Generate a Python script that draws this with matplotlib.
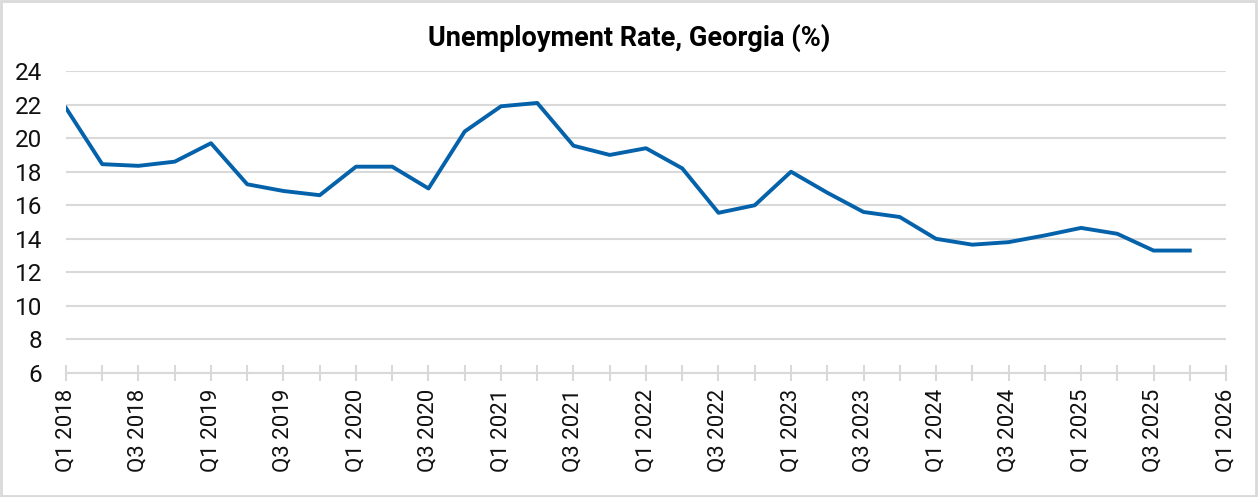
import matplotlib.pyplot as plt
from matplotlib.patches import Rectangle

# Квартальні дані, Q1 2018 - Q4 2025
quarters = [f"Q{q} {y}" for y in range(2018, 2026) for q in range(1, 5)]
rate = [21.8, 18.45, 18.35, 18.6, 19.7, 17.25, 16.85, 16.6,
        18.3, 18.3, 17.0, 20.4, 21.9, 22.1, 19.55, 19.0,
        19.4, 18.2, 15.55, 16.0, 18.0, 16.75, 15.6, 15.3,
        14.0, 13.65, 13.8, 14.2, 14.65, 14.3, 13.3, 13.3]
tick_labels = [f"Q{q} {y}" for y in range(2018, 2027) for q in (1, 3)][:-1]

fig = plt.figure(figsize=(12.59, 4.97), dpi=100)
ax = fig.add_axes([0.0524, 0.2495, 0.9214, 0.6075])

x = list(range(len(rate)))
ax.plot(x, rate, color='#0462ab', linewidth=2.8, solid_joinstyle='round')

ax.set_xlim(0, len(rate))
ax.set_ylim(6, 24)
ax.set_yticks(range(6, 25, 2))
ax.set_xticks(range(0, len(rate) + 1))
ax.set_xticklabels([tick_labels[i // 2] if i % 2 == 0 else "" for i in range(len(rate) + 1)],
                   rotation=90, fontsize=16, family='Roboto', color='#111111')
for lbl in ax.get_yticklabels():
    lbl.set_family('Roboto')
    lbl.set_fontsize(17.5)
    lbl.set_color('#111111')

ax.grid(axis='y', color='#d9d9d9', linewidth=1.5)
ax.set_axisbelow(True)
for s in ['top', 'right', 'left']:
    ax.spines[s].set_visible(False)
ax.spines['bottom'].set_color('#d9d9d9')
ax.spines['bottom'].set_linewidth(1.5)
ax.tick_params(axis='x', direction='inout', length=11, width=1.5, color='#d9d9d9', pad=6)
ax.tick_params(axis='y', length=0, pad=17)

fig.text(0.4995, 0.923, "Unemployment Rate, Georgia (%)", ha='center', va='center',
         fontsize=19.5, fontweight='bold', family='Roboto')

fig.patches.append(Rectangle((0.001, 0.002), 0.997, 0.996, transform=fig.transFigure,
                             fill=False, edgecolor='#d9d9d9', linewidth=2))

fig.savefig('out.png', dpi=100)
